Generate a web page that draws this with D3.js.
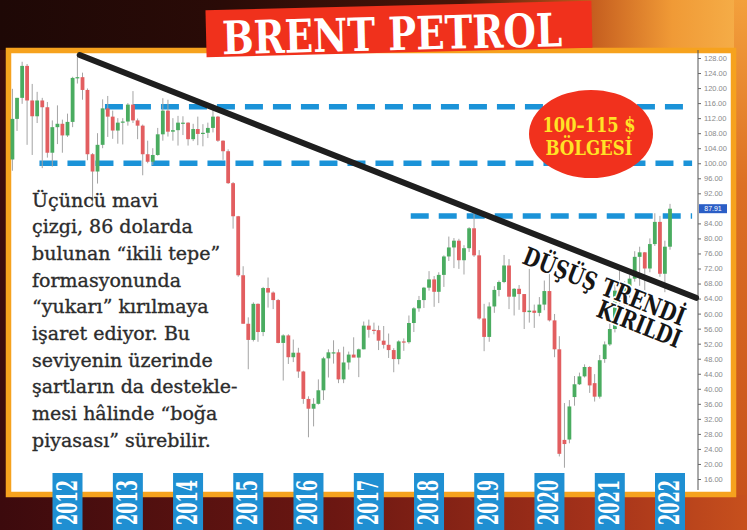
<!DOCTYPE html>
<html><head><meta charset="utf-8">
<script src="https://cdn.jsdelivr.net/npm/d3@7"></script>
<style>html,body{margin:0;padding:0;background:#000;}svg{display:block}</style>
</head><body>
<svg id="c" width="747" height="530"></svg>
<script>
// ---------- DATA (monthly Brent candles) ----------
const months = [
 "2011-02","2011-03","2011-04","2011-05","2011-06","2011-07","2011-08","2011-09","2011-10","2011-11","2011-12",
 "2012-01","2012-02","2012-03","2012-04","2012-05","2012-06","2012-07","2012-08","2012-09","2012-10","2012-11","2012-12",
 "2013-01","2013-02","2013-03","2013-04","2013-05","2013-06","2013-07","2013-08","2013-09","2013-10","2013-11","2013-12",
 "2014-01","2014-02","2014-03","2014-04","2014-05","2014-06","2014-07","2014-08","2014-09","2014-10","2014-11","2014-12",
 "2015-01","2015-02","2015-03","2015-04","2015-05","2015-06","2015-07","2015-08","2015-09","2015-10","2015-11","2015-12",
 "2016-01","2016-02","2016-03","2016-04","2016-05","2016-06","2016-07","2016-08","2016-09","2016-10","2016-11","2016-12",
 "2017-01","2017-02","2017-03","2017-04","2017-05","2017-06","2017-07","2017-08","2017-09","2017-10","2017-11","2017-12",
 "2018-01","2018-02","2018-03","2018-04","2018-05","2018-06","2018-07","2018-08","2018-09","2018-10","2018-11","2018-12",
 "2019-01","2019-02","2019-03","2019-04","2019-05","2019-06","2019-07","2019-08","2019-09","2019-10","2019-11","2019-12",
 "2020-01","2020-02","2020-03","2020-04","2020-05","2020-06","2020-07","2020-08","2020-09","2020-10","2020-11","2020-12",
 "2021-01","2021-02","2021-03","2021-04","2021-05","2021-06","2021-07","2021-08","2021-09","2021-10","2021-11","2021-12",
 "2022-01"];
const openV = [
 101.0,111.8,117.4,125.9,116.7,112.5,116.7,114.9,102.8,109.6,110.5,
 107.4,111.0,122.7,122.9,119.5,102.4,97.8,104.9,114.6,112.4,108.7,110.8,
 111.1,115.6,111.4,110.0,102.4,100.4,102.2,107.7,114.0,108.4,108.8,110.8,
 110.8,106.4,109.1,107.8,108.1,109.4,112.4,106.0,103.2,94.7,85.9,70.2,
 57.3,53.0,62.6,55.1,66.8,65.6,63.6,52.2,54.2,48.4,49.6,44.6,
 37.3,34.7,36.0,39.6,48.1,49.7,49.7,42.5,47.0,49.1,48.3,50.5,
 56.8,55.7,55.6,52.8,51.7,50.3,47.9,52.6,52.4,57.5,61.4,63.6,
 66.9,69.1,65.8,70.3,75.2,77.6,79.4,74.2,77.4,82.7,75.5,58.7,
 53.8,61.9,66.3,68.4,72.8,64.5,66.6,65.2,60.4,60.8,60.2,62.4,
 66.0,58.2,50.5,26.4,26.5,37.8,41.2,43.3,45.8,41.5,37.9,47.9,
 51.8,55.9,66.1,63.5,67.3,69.3,75.1,76.3,72.0,78.5,84.4,70.6,
 77.8];
const highV = [
 119.8,117.4,127.0,126.4,121.1,119.0,117.4,116.3,111.4,115.4,111.6,
 113.2,123.0,128.4,124.1,119.9,102.7,108.0,117.0,117.9,114.0,112.0,112.0,
 116.0,119.2,111.9,110.3,106.0,104.0,109.4,117.3,116.9,112.0,112.6,112.5,
 110.9,110.5,112.4,110.4,110.8,115.7,112.6,106.1,103.7,95.0,86.0,72.6,
 59.0,63.0,62.7,67.1,69.6,65.9,63.9,54.5,54.5,53.1,50.9,44.8,
 38.0,37.5,42.5,48.5,50.5,52.9,50.5,51.2,49.9,53.7,50.7,57.9,
 58.4,57.6,56.8,56.7,54.7,50.8,52.9,53.4,59.5,61.7,64.7,67.1,
 71.3,70.0,71.0,75.5,80.5,80.1,79.9,78.2,83.0,86.7,76.9,62.6,
 63.0,67.3,68.8,75.6,74.5,66.8,67.6,65.2,71.9,62.4,64.4,68.8,
 71.8,59.9,54.0,36.2,37.0,43.4,44.3,46.5,46.0,43.9,49.0,52.6,
 57.4,67.7,71.4,68.6,70.3,76.6,77.8,76.4,80.0,86.7,86.0,79.4,
 89.2];
const lowV = [
 98.0,108.6,115.8,104.9,102.2,110.7,98.7,101.5,99.1,105.1,102.8,
 107.0,109.6,121.2,116.9,100.8,88.5,94.6,104.0,107.0,106.5,105.2,105.0,
 110.0,110.7,106.4,96.8,100.0,99.5,102.0,106.0,107.1,106.0,104.7,107.5,
 104.7,105.9,104.8,104.5,106.7,108.2,105.7,100.9,94.5,82.6,69.8,57.3,
 45.2,52.6,52.5,54.0,61.6,61.2,52.1,42.2,46.6,47.1,42.9,36.0,
 27.1,30.0,35.8,37.0,43.0,46.7,41.5,41.5,45.1,48.5,43.1,50.5,
 53.6,54.5,50.3,50.7,48.2,44.4,46.5,50.1,52.0,55.1,60.5,61.5,
 66.1,61.8,62.8,67.1,74.0,72.1,71.9,70.4,76.4,75.1,58.4,50.0,
 52.5,60.2,64.6,68.1,61.2,59.5,61.0,55.9,57.6,56.2,59.3,60.9,
 57.9,48.4,22.0,19.0,25.5,35.5,41.0,43.0,38.9,36.6,37.4,46.9,
 51.4,55.0,60.3,61.5,64.3,68.5,67.4,64.6,71.0,78.0,69.8,65.7,
 77.0];
const closeV = [
 111.8,117.4,125.9,116.7,112.5,116.7,114.9,102.8,109.6,110.5,107.4,
 111.0,122.7,122.9,119.5,102.4,97.8,104.9,114.6,112.4,108.7,110.8,111.1,
 115.6,111.4,110.0,102.4,100.4,102.2,107.7,114.0,108.4,108.8,110.8,110.8,
 106.4,109.1,107.8,108.1,109.4,112.4,106.0,103.2,94.7,85.9,70.2,57.3,
 53.0,62.6,55.1,66.8,65.6,63.6,52.2,54.2,48.4,49.6,44.6,37.3,
 34.7,36.0,39.6,48.1,49.7,49.7,42.5,47.0,49.1,48.3,50.5,56.8,
 55.7,55.6,52.8,51.7,50.3,47.9,52.6,52.4,57.5,61.4,63.6,66.9,
 69.1,65.8,70.3,75.2,77.6,79.4,74.2,77.4,82.7,75.5,58.7,53.8,
 61.9,66.3,68.4,72.8,64.5,66.6,65.2,60.4,60.8,60.2,62.4,66.0,
 58.2,50.5,22.7,25.3,35.3,41.2,43.3,45.8,40.9,37.9,47.6,51.8,
 55.9,66.1,63.5,67.3,69.3,75.1,76.3,72.0,78.5,84.4,70.6,77.8,
 87.9];

const yearLabels = ["2012","2013","2014","2015","2016","2017","2018","2019","2020","2021","2022"];
const yTicks = [16,20,24,28,32,36,40,44,48,52,56,60,64,68,72,76,80,84,92,96,100,104,108,112,116,120,124,128];
const lastPrice = 87.91;
// resistance / support levels (value, from month, to month)
const levelValues = [115, 100, 86];
const levelFrom   = ["2012-08-15","2011-07-15","2017-09-12"];
const levelTo     = ["2022-05-15","2022-05-15","2022-05-15"];
// down-trend line (date, value)
const trendDates  = ["2012-03-15","2022-06-08"];
const trendValues = [128.8, 64.2];

const titleText = "BRENT PETROL";
const bubbleLines = ["100–115 $","BÖLGESİ"];
const noteLines = ["Üçüncü mavi","çizgi, 86 dolarda","bulunan “ikili tepe”","formasyonunda","“yukarı” kırılmaya","işaret ediyor. Bu","seviyenin üzerinde","şartların da destekle-","mesi hâlinde “boğa","piyasası” sürebilir."];
const trendLabel = ["DÜŞÜŞ TRENDİ","KIRILDI"];

// ---------- DRAW ----------
const W = 747, H = 530;
const svg = d3.select("#c");
const defs = svg.append("defs");
const pm = d3.timeParse("%Y-%m"), pd = d3.timeParse("%Y-%m-%d"), py = d3.timeParse("%Y");

function lg(id, stops, vertical){
  const g = defs.append("linearGradient").attr("id", id)
    .attr("x1",0).attr("y1",0).attr("x2",vertical?0:1).attr("y2",vertical?1:0);
  g.selectAll("stop").data(stops).join("stop")
    .attr("offset", d=>d[0]).attr("stop-color", d=>d[1]);
}
lg("bgH", [[0,"#3a0a0c"],[0.4,"#611311"],[0.75,"#93281a"],[1,"#c4481b"]]);
lg("topH", [[0,"#1e0806"],[0.3,"#2a0b07"],[0.62,"#4a1508"],[0.78,"#c0561c"],[0.9,"#f09a36"],[1,"#f6b04a"]]);
lg("rightV", [[0,"#f3a03c"],[0.35,"#dc7024"],[1,"#c54e1a"]], true);
lg("botH", [[0,"#3c0a0d"],[0.45,"#6c1712"],[0.8,"#a5321a"],[1,"#c7501d"]]);

svg.append("rect").attr("width",W).attr("height",H).attr("fill","url(#bgH)");
svg.append("rect").attr("width",W).attr("height",50).attr("fill","url(#topH)");
svg.append("rect").attr("x",734).attr("width",13).attr("height",H).attr("fill","url(#rightV)");
svg.append("rect").attr("y",495).attr("width",W).attr("height",35).attr("fill","url(#botH)");

// panel
svg.append("rect").attr("x",8.5).attr("y",50.5).attr("width",725).attr("height",444)
  .attr("fill","#fff").attr("stroke","#f6a21e").attr("stroke-width",5.5);

// scales
const x = d3.scaleTime().domain([py("2012"), py("2022")]).range([67.5, 670]);
const y = d3.scaleLinear().domain([16,128]).range([479,58]);

// y axis
const ax = svg.append("g").attr("transform","translate(698,0)")
  .call(d3.axisRight(y).tickValues(yTicks).tickFormat(d3.format(".2f")).tickSize(3).tickPadding(3));
ax.select(".domain").attr("stroke","#555").attr("d","M0,50V490");
ax.selectAll(".tick line").attr("stroke","#666");
ax.selectAll(".tick text").attr("fill","#8a8a8a").style("font","7.5px 'Liberation Sans', Arial, sans-serif");

// level lines
const levels = levelValues.map((v,i)=>({v, a:pd(levelFrom[i]), b:pd(levelTo[i])}));
svg.append("g").selectAll("line").data(levels).join("line")
  .attr("x1", d=>x(d.a)).attr("x2", d=>x(d.b))
  .attr("y1", d=>y(d.v)).attr("y2", d=>y(d.v))
  .attr("stroke","#1b93d8").attr("stroke-width",5.5).attr("stroke-dasharray","18,10");

// candles
const candles = months.map((m,i)=>({d:pm(m), o:openV[i], h:highV[i], l:lowV[i], c:closeV[i]}));
const cg = svg.append("g");
cg.selectAll("line").data(candles).join("line")
  .attr("x1", d=>x(d.d)).attr("x2", d=>x(d.d))
  .attr("y1", d=>y(d.h)).attr("y2", d=>y(d.l))
  .attr("stroke","#a4a4a4").attr("stroke-width",1);
const bw = 3.8;
cg.selectAll("rect").data(candles).join("rect")
  .attr("x", d=>x(d.d)-bw/2).attr("width", bw)
  .attr("y", d=>y(Math.max(d.o,d.c)))
  .attr("height", d=>Math.max(1.2, Math.abs(y(d.o)-y(d.c))))
  .attr("fill", d=> d.c>=d.o ? "#4aac60" : "#e25e60");

// bubble
svg.append("ellipse").attr("cx",591).attr("cy",134).attr("rx",62).attr("ry",44).attr("fill","#f1311d");
svg.append("g").selectAll("text").data(bubbleLines).join("text")
  .attr("x",589).attr("y",(d,i)=>132+i*23)
  .attr("text-anchor","middle").attr("fill","#ffe327")
  .attr("textLength",(d,i)=>i?87:93).attr("lengthAdjust","spacingAndGlyphs")
  .style("font","bold 20px 'DejaVu Serif', serif").text(d=>d);

// trend line
svg.append("line")
  .attr("x1", x(pd(trendDates[0]))).attr("y1", y(trendValues[0]))
  .attr("x2", x(pd(trendDates[1]))).attr("y2", y(trendValues[1]))
  .attr("stroke","#1e1e1e").attr("stroke-width",6).attr("stroke-linecap","round");

// last price box
svg.append("rect").attr("x",699).attr("y",y(lastPrice)-4.5).attr("width",28).attr("height",9).attr("fill","#2b5ec6");
svg.append("text").attr("x",713).attr("y",y(lastPrice)+2.5).attr("text-anchor","middle")
  .attr("fill","#fff").style("font","7px 'Liberation Sans', Arial, sans-serif").text(d3.format(".2f")(lastPrice));

// trend label
const ang = Math.atan2(y(trendValues[1])-y(trendValues[0]), x(pd(trendDates[1]))-x(pd(trendDates[0])))*180/Math.PI;
const tl = svg.append("g");
[[521,263,172],[595,316,88]].forEach((p,i)=>{
  tl.append("text").attr("transform",`translate(${p[0]},${p[1]}) rotate(${ang})`)
    .attr("textLength",p[2]).attr("lengthAdjust","spacingAndGlyphs")
    .attr("fill","#161616").attr("stroke","#fff").attr("stroke-width",3.5)
    .attr("paint-order","stroke").attr("stroke-linejoin","round")
    .style("font","bold 25px 'DejaVu Serif', serif").text(trendLabel[i]);
});

// note text
svg.append("g").selectAll("text").data(noteLines).join("text")
  .attr("x",32).attr("y",(d,i)=>206.7+i*26.67)
  .attr("fill","#2c2c2c").attr("stroke","#2c2c2c").attr("stroke-width",0.35)
  .style("font","19px 'DejaVu Serif', serif").text(d=>d);

// year boxes
const yb = svg.append("g").selectAll("g").data(yearLabels).join("g")
  .attr("transform", d=>`translate(${x(py(d))},0)`);
yb.append("rect").attr("x",-15).attr("y",473).attr("width",30).attr("height",57).attr("fill","#1f8fd2");
yb.append("text").attr("transform","translate(9,525) rotate(-90)")
  .attr("textLength",45).attr("lengthAdjust","spacingAndGlyphs")
  .attr("fill","#fff").style("font","bold 27px 'DejaVu Serif', serif").text(d=>d);

// title banner
const tb = svg.append("g").attr("transform","rotate(-1.4,398,30)");
tb.append("rect").attr("x",206).attr("y",5.5).attr("width",386).attr("height",47).attr("fill","#f0311c");
tb.append("text").attr("x",222).attr("y",50).attr("textLength",340).attr("lengthAdjust","spacingAndGlyphs")
  .attr("fill","#fff").style("font","bold 46px 'DejaVu Serif', serif").text(titleText);
</script>
</body></html>
